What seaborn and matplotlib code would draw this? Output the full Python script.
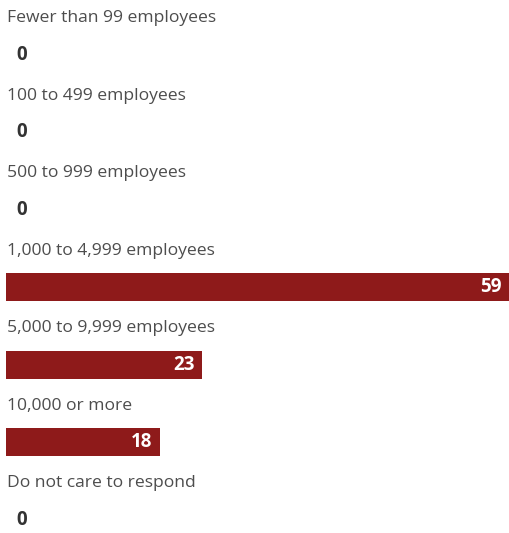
import matplotlib
matplotlib.use("Agg")
import matplotlib.pyplot as plt
import seaborn as sns
import pandas as pd
from matplotlib.transforms import offset_copy

categories = [
    "Fewer than 99 employees",
    "100 to 499 employees",
    "500 to 999 employees",
    "1,000 to 4,999 employees",
    "5,000 to 9,999 employees",
    "10,000 or more",
    "Do not care to respond",
]
values = [0, 0, 0, 59, 23, 18, 0]

df = pd.DataFrame({"category": categories, "value": values})

sns.set_theme(style="white")
plt.rcParams["font.family"] = ["Open Sans", "DejaVu Sans"]

BAR = "#8e1a1a"
TEXT = "#4d4d4d"

fig = plt.figure(figsize=(5.10, 5.33), dpi=100)
ax = fig.add_axes([0, 0, 1, 1])

sns.barplot(data=df, x="value", y="category", orient="h", color=BAR,
            width=0.36, saturation=1, linewidth=0, edgecolor="none", ax=ax)

ax.set_xlim(-0.70, 59.0)
ax.set_ylim(6.17, -0.71)
ax.axis("off")

title_t = offset_copy(ax.transData, fig=fig, x=1, y=-2, units="dots")
for i, (cat, val) in enumerate(zip(categories, values)):
    # category title above each bar
    ax.text(0, i - 0.5, cat, ha="left", va="center",
            fontsize=12.6, color=TEXT, transform=title_t)
    if val > 0:
        t = offset_copy(ax.transData, fig=fig, x=-8, y=0, units="dots")
        ax.text(val, i, str(val), ha="right", va="center", fontsize=13.5,
                fontweight="bold", color="white", transform=t)
    else:
        t = offset_copy(ax.transData, fig=fig, x=10, y=0, units="dots")
        ax.text(0, i, str(val), ha="left", va="center", fontsize=13.5,
                fontweight="bold", color="#333333", transform=t)

fig.savefig("out.png", dpi=100)
